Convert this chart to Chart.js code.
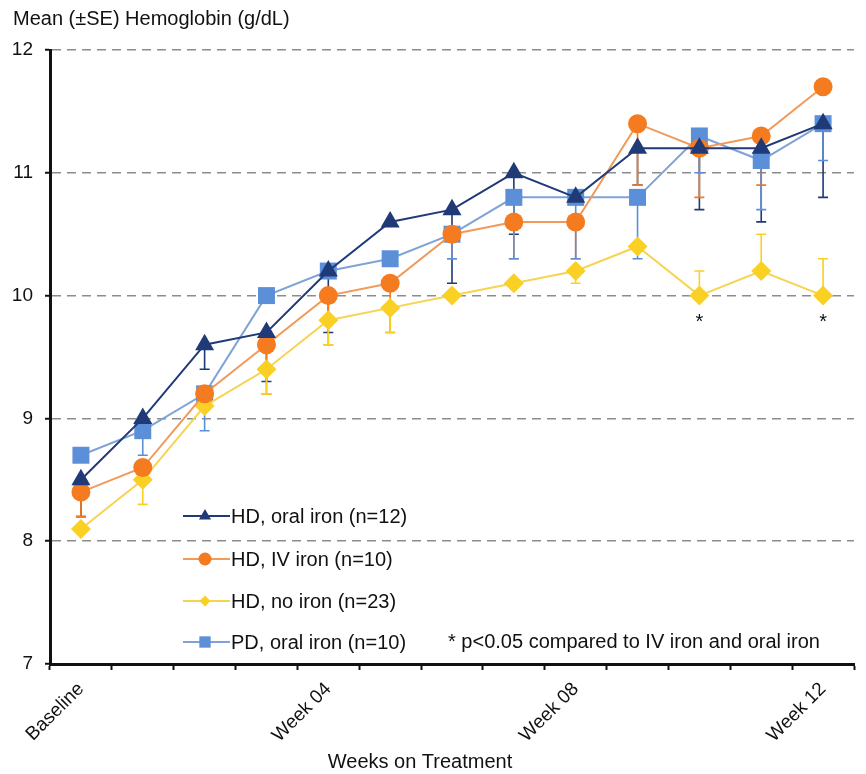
<!DOCTYPE html>
<html lang="en">
<head>
  <meta charset="UTF-8" />
  <title>Mean Hemoglobin by Week</title>
  <style>
    html, body { margin: 0; padding: 0; background: #fff; }
    #wrap { width: 866px; height: 774px; position: relative; }
  </style>
</head>
<body>
  <div id="wrap"><canvas id="chart" width="866" height="774"></canvas></div>

  <script src="https://cdn.jsdelivr.net/npm/chart.js"></script>
  <script>
    const weeks = ["Baseline", "Week 01", "Week 02", "Week 03", "Week 04", "Week 05", "Week 06",
                   "Week 07", "Week 08", "Week 09", "Week 10", "Week 11", "Week 12"];
    const shownTicks = [0, 4, 8, 12];

    const hdOral = [8.5, 9.0, 9.6, 9.7, 10.2, 10.6, 10.7, 11.0, 10.8, 11.2, 11.2, 11.2, 11.4];
    const hdIV   = [8.4, 8.6, 9.2, 9.6, 10.0, 10.1, 10.5, 10.6, 10.6, 11.4, 11.2, 11.3, 11.7];
    const hdNone = [8.1, 8.5, 9.1, 9.4, 9.8, 9.9, 10.0, 10.1, 10.2, 10.4, 10.0, 10.2, 10.0];
    const pdOral = [8.7, 8.9, 9.2, 10.0, 10.2, 10.3, 10.5, 10.8, 10.8, 10.8, 11.3, 11.1, 11.4];

    // SE whiskers (only one side is drawn in the original figure)
    const hdOralSeDown = [0.3, 0.1, 0.2, 0.4, 0.5, 0, 0.6, 0.5, 0, 0.3, 0.5, 0.6, 0.6];
    const hdIVSeDown   = [0.2, 0, 0, 0.4, 0.4, 0.4, 0.2, 0.3, 0.3, 0.5, 0.4, 0.4, 0];
    const hdNoneSeDown = [0, 0.2, 0, 0.2, 0.2, 0.2, 0, 0, 0.1, 0, 0, 0, 0];
    const hdNoneSeUp   = [0, 0, 0, 0, 0, 0, 0, 0, 0, 0, 0.2, 0.3, 0.3];
    const pdOralSeDown = [0, 0.2, 0.3, 0, 0, 0, 0.2, 0.5, 0.5, 0.5, 0.3, 0.4, 0.3];

    const sigWeeks = [10, 12];
    const yTicks = { min: 7, max: 12, step: 1 };

    const FONT = "'Liberation Sans', Arial, sans-serif";

    const series = [
      { label: "HD, oral iron (n=12)", data: hdOral, down: hdOralSeDown, up: null,
        color: "#1f3a76", line: "#1f3a76", style: "triangle", r: 11, lr: 7 },
      { label: "HD, IV iron (n=10)", data: hdIV, down: hdIVSeDown, up: null,
        color: "#f47b20", line: "#f19a5c", style: "circle", r: 9.5, lr: 6.5 },
      { label: "HD, no iron (n=23)", data: hdNone, down: hdNoneSeDown, up: hdNoneSeUp,
        color: "#fbd024", line: "#f6d451", style: "rectRot", r: 10, lr: 5.5 },
      { label: "PD, oral iron (n=10)", data: pdOral, down: pdOralSeDown, up: null,
        color: "#5b8fd8", line: "#7fa3d6", style: "rect", r: 12, lr: 8 }
    ];

    const errorBars = {
      id: "errorBars",
      beforeDatasetsDraw(chart) {
        const ctx = chart.ctx;
        const x = chart.scales.x, y = chart.scales.y;
        ctx.save();
        series.forEach(s => {
          ctx.strokeStyle = s.color;
          ctx.lineWidth = 1.6;
          s.data.forEach((v, i) => {
            [[s.down, -1], [s.up, 1]].forEach(([arr, dir]) => {
              if (!arr || !arr[i]) return;
              const px = x.getPixelForValue(i);
              const p0 = y.getPixelForValue(v);
              const p1 = y.getPixelForValue(v + dir * arr[i]);
              ctx.beginPath();
              ctx.moveTo(px, p0); ctx.lineTo(px, p1);
              ctx.moveTo(px - 5, p1); ctx.lineTo(px + 5, p1);
              ctx.stroke();
            });
          });
        });
        ctx.restore();
      }
    };

    const extras = {
      id: "extras",
      afterDraw(chart) {
        const ctx = chart.ctx;
        const x = chart.scales.x, y = chart.scales.y;
        ctx.save();
        ctx.fillStyle = "#111";
        ctx.font = "20px " + FONT;
        ctx.textBaseline = "middle";
        ctx.textAlign = "left";
        // y-axis title
        ctx.fillText("Mean (\u00b1SE) Hemoglobin (g/dL)", 13, 19);

        // x-axis title (sits left of the plot centre in the original)
        ctx.textAlign = "center";
        ctx.fillText("Weeks on Treatment", 420, 762);

        // significance asterisks under the no-iron series
        sigWeeks.forEach(i => {
          ctx.fillText("*", x.getPixelForValue(i), y.getPixelForValue(hdNone[i]) + 27);
        });

        // legend inside the plot
        const lx = 183, tx = 231;
        const rows = [516, 559, 601, 642];
        ctx.textAlign = "left";
        series.forEach((s, k) => {
          const ly = rows[k];
          ctx.strokeStyle = s.line;
          ctx.lineWidth = 2;
          ctx.beginPath();
          ctx.moveTo(lx, ly); ctx.lineTo(lx + 47, ly);
          ctx.stroke();
          ctx.fillStyle = s.color;
          Chart.helpers.drawPoint(ctx, { pointStyle: s.style, radius: s.lr, rotation: 0, borderWidth: 0 }, lx + 22, ly);
          ctx.fillStyle = "#111";
          ctx.fillText(s.label, tx, ly + 1);
        });
        ctx.fillText("* p<0.05 compared to IV iron and oral iron", 448, 642);
        ctx.restore();
      }
    };

    new Chart(document.getElementById("chart").getContext("2d"), {
      type: "line",
      data: {
        labels: weeks,
        datasets: series.map(s => ({
          label: s.label,
          data: s.data,
          borderColor: s.line,
          borderWidth: 2,
          backgroundColor: s.color,
          pointBackgroundColor: s.color,
          pointBorderColor: s.color,
          pointBorderWidth: 0,
          pointStyle: s.style,
          pointRadius: s.r,
          tension: 0
        }))
      },
      options: {
        responsive: false,
        animation: false,
        layout: { padding: { top: 50, right: 10, left: 0, bottom: 0 } },
        plugins: {
          legend: { display: false },
          tooltip: { enabled: false }
        },
        scales: {
          x: {
            offset: true,
            grid: {
              offset: true,
              drawOnChartArea: false,
              drawTicks: true,
              tickLength: 6,
              tickColor: "#111",
              tickWidth: 2
            },
            border: { color: "#111", width: 3 },
            ticks: {
              autoSkip: false,
              maxRotation: 45,
              minRotation: 45,
              color: "#111",
              font: { family: FONT, size: 19 },
              padding: 8,
              callback: (val, i) => shownTicks.includes(i) ? weeks[i] : ""
            },
            afterFit: s => { s.height = 110; }
          },
          y: {
            min: yTicks.min,
            max: yTicks.max,
            ticks: {
              stepSize: yTicks.step,
              color: "#111",
              font: { family: FONT, size: 19 },
              padding: 12
            },
            grid: {
              color: "#8c8c8c",
              lineWidth: 1.5,
              tickLength: 5,
              tickColor: "#111",
              tickWidth: 2,
              tickBorderDash: []
            },
            border: { color: "#111", width: 3, dash: [9, 6] },
            afterFit: s => { s.width = 50; }
          }
        }
      },
      plugins: [errorBars, extras]
    });
  </script>
</body>
</html>
